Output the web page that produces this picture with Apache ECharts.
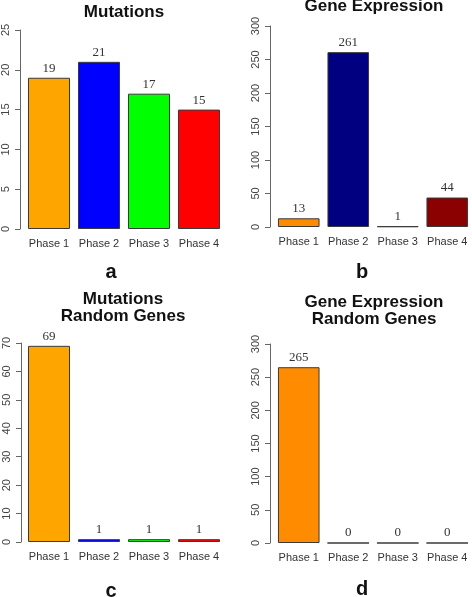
<!DOCTYPE html>
<html><head><meta charset="utf-8">
<script src="https://cdn.jsdelivr.net/npm/echarts@6/dist/echarts.min.js"></script>
<style>html,body{margin:0;padding:0;background:#fff}#c{width:472px;height:597px}</style>
</head><body><div id="c"></div>
<script>
const categories = ['Phase 1', 'Phase 2', 'Phase 3', 'Phase 4'];
const mutations = [19, 21, 17, 15];
const geneExpression = [13, 261, 1, 44];
const mutationsRandom = [69, 1, 1, 1];
const geneExpressionRandom = [265, 0, 0, 0];
const colorsA = ['#FFA500', '#0000FF', '#00FF00', '#FF0000'];
const colorsB = ['#FF8C00', '#000080', '#222222', '#8B0000'];
const colorsC = ['#FFA500', '#0000FF', '#00FF00', '#FF0000'];
const colorsD = ['#FF8C00', '#FFFFFF', '#FFFFFF', '#FFFFFF'];
const titles = ['Mutations', 'Gene Expression', 'Mutations\nRandom Genes', 'Gene Expression\nRandom Genes'];
const letters = ['a', 'b', 'c', 'd'];
const yMax = [25, 300, 70, 300];
const yStep = [5, 50, 10, 50];

const panels = [
  {data: mutations, colors: colorsA, grid: {left: 24, top: 30, width: 200, height: 199}, offset: 4},
  {data: geneExpression, colors: colorsB, grid: {left: 274, top: 26, width: 199, height: 201}, offset: 4},
  {data: mutationsRandom, colors: colorsC, grid: {left: 24, top: 343, width: 200, height: 199}, offset: 3},
  {data: geneExpressionRandom, colors: colorsD, grid: {left: 274, top: 344, width: 199, height: 199}, offset: 4}
];
const titlePos = [[124, 12], [374, 6], [123, 308], [374, 311]];
const letterPos = [[111, 272], [362, 272], [111, 591], [362, 589]];

const chart = echarts.init(document.getElementById('c'), null, {renderer: 'canvas'});
const option = {
  animation: false,
  backgroundColor: '#ffffff',
  grid: panels.map(p => Object.assign({containLabel: false}, p.grid)),
  xAxis: panels.map((p, i) => ({
    type: 'category', gridIndex: i, data: categories,
    axisLine: {show: false}, axisTick: {show: false}, splitLine: {show: false},
    axisLabel: {interval: 0, color: '#333', fontFamily: 'Liberation Sans, Arial', fontSize: 11, margin: 9}
  })),
  yAxis: panels.map((p, i) => ({
    type: 'value', gridIndex: i, min: 0, max: yMax[i], interval: yStep[i],
    offset: p.offset,
    axisLine: {show: true, lineStyle: {color: '#666', width: 1}},
    axisTick: {show: true, length: 5, lineStyle: {color: '#666'}},
    splitLine: {show: false},
    axisLabel: {rotate: 90, color: '#444', fontFamily: 'Liberation Sans, Arial', fontSize: 11, margin: 9}
  })),
  series: panels.map((p, i) => ({
    type: 'bar', xAxisIndex: i, yAxisIndex: i,
    barCategoryGap: '16%',
    data: p.data.map((v, j) => ({value: v, itemStyle: {color: p.colors[j]}})),
    itemStyle: {borderColor: '#3a3a3a', borderWidth: 1},
    label: {show: true, position: 'top', distance: 3, color: '#333',
      fontFamily: 'Liberation Serif, Times New Roman', fontSize: 13}
  })),
  graphic: [
    ...titles.map((t, i) => ({
      type: 'text', x: titlePos[i][0], y: titlePos[i][1],
      style: {text: t, fill: '#111', font: 'bold 17px "Liberation Sans", Arial',
        textAlign: 'center', textVerticalAlign: 'middle', lineHeight: 17}
    })),
    ...letters.map((t, i) => ({
      type: 'text', x: letterPos[i][0], y: letterPos[i][1],
      style: {text: t, fill: '#111', font: 'bold 20px "Liberation Sans", Arial',
        textAlign: 'center', textVerticalAlign: 'middle'}
    }))
  ]
};
chart.setOption(option);
</script></body></html>
